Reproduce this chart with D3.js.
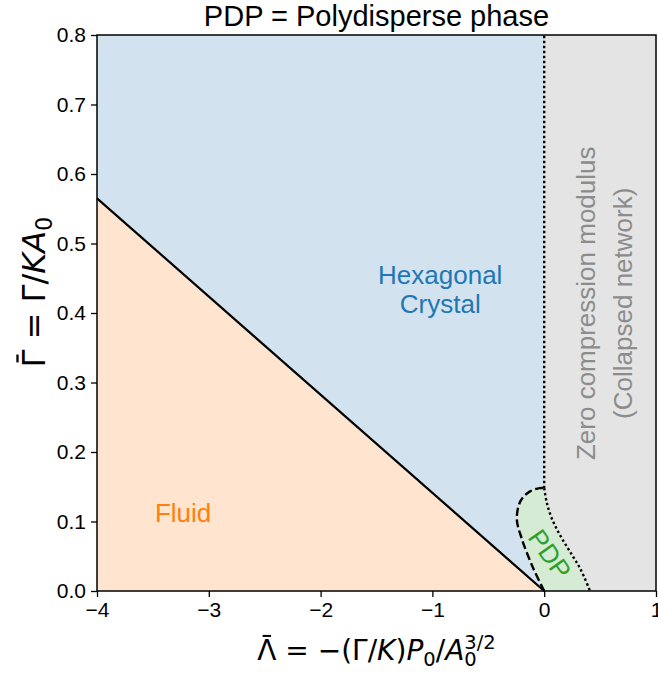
<!DOCTYPE html>
<html>
<head>
<meta charset="utf-8">
<script src="https://cdn.jsdelivr.net/npm/d3@7"></script>
<style>
 body { margin: 0; background: #fff; }
 text { font-family: "Liberation Sans", Arial, sans-serif; }
 .math { font-family: "DejaVu Sans", sans-serif; }
</style>
</head>
<body>
<div id="chart"></div>
<script>
// phase boundaries
const fluidBoundary = [[-4, 0.565], [0, 0]];
const pdpLeftBoundary = [[0, 0], [-0.096, 0.032], [-0.2, 0.075], [-0.245, 0.104], [-0.21, 0.13], [-0.13, 0.143], [-0.04, 0.148], [0, 0.148]];
const pdpRightBoundary = [[0, 0.148], [0.022, 0.128], [0.069, 0.104], [0.143, 0.08], [0.233, 0.056], [0.323, 0.032], [0.41, 0]];
const collapseBoundary = [[0, 0.148], [0, 0.8]];
const xTicks = [-4, -3, -2, -1, 0, 1];
const yTicks = [0, 0.1, 0.2, 0.3, 0.4, 0.5, 0.6, 0.7, 0.8];

(function () {
 const width = 658;
 const height = 677;
 const margin = { top: 35, right: 2, bottom: 86, left: 97 };
 const w = width - margin.left - margin.right;
 const h = height - margin.top - margin.bottom;

 const svg = d3
  .select("#chart")
  .append("svg")
  .attr("width", width)
  .attr("height", height);

 const g = svg.append("g").attr("transform", `translate(${margin.left},${margin.top})`);

 const x = d3.scaleLinear().domain([-4, 1]).range([0, w]);
 const y = d3.scaleLinear().domain([0, 0.8]).range([h, 0]);

 const line = d3.line().x((d) => x(d[0])).y((d) => y(d[1]));
 const smooth = d3.line().x((d) => x(d[0])).y((d) => y(d[1])).curve(d3.curveCatmullRom);

 // filled regions
 const xMin = x.domain()[0], xMax = x.domain()[1];
 const yMax = y.domain()[1];
 g.append("path")
  .attr("d", line([[xMin, 0], ...fluidBoundary]) + "Z")
  .attr("fill", "#ffe5cf");
 g.append("path")
  .attr("d", line([...fluidBoundary, [0, yMax], [xMin, yMax]]) + "Z")
  .attr("fill", "#d2e3ef");
 g.append("path")
  .attr("d", line([[0, 0], [xMax, 0], [xMax, yMax], [0, yMax]]) + "Z")
  .attr("fill", "#e4e4e4");
 g.append("path")
  .attr("d", smooth(pdpLeftBoundary) + smooth(pdpRightBoundary).replace("M", "L") + "Z")
  .attr("fill", "#d5ebd3");

 // boundaries
 g.append("path").attr("d", line(fluidBoundary))
  .attr("fill", "none").attr("stroke", "#000").attr("stroke-width", 2.2);
 g.append("path").attr("d", smooth(pdpLeftBoundary))
  .attr("fill", "none").attr("stroke", "#000").attr("stroke-width", 2.4)
  .attr("stroke-dasharray", "8,3.5");
 g.append("path").attr("d", smooth(pdpRightBoundary))
  .attr("fill", "none").attr("stroke", "#000").attr("stroke-width", 2.4)
  .attr("stroke-dasharray", "2.4,2.6");
 g.append("path").attr("d", line(collapseBoundary))
  .attr("fill", "none").attr("stroke", "#000").attr("stroke-width", 2.4)
  .attr("stroke-dasharray", "2.4,2.6");

 // region labels
 const fs = 26;
 g.append("text").attr("x", x(-0.93)).attr("y", y(0.442))
  .attr("text-anchor", "middle").attr("font-size", fs).attr("fill", "#1f77b4")
  .text("Hexagonal");
 g.append("text").attr("x", x(-0.93)).attr("y", y(0.4))
  .attr("text-anchor", "middle").attr("font-size", fs).attr("fill", "#1f77b4")
  .text("Crystal");
 g.append("text").attr("x", x(-3.23)).attr("y", y(0.112))
  .attr("text-anchor", "middle").attr("dy", "0.35em").attr("font-size", fs).attr("fill", "#ff7f0e")
  .text("Fluid");
 g.append("text")
  .attr("transform", `translate(${x(0.05)},${y(0.053)}) rotate(55)`)
  .attr("text-anchor", "middle").attr("dy", "0.35em").attr("font-size", fs).attr("fill", "#2ca02c")
  .text("PDP");
 g.append("text")
  .attr("transform", `translate(${x(0.37)},${y(0.414)}) rotate(-90)`)
  .attr("text-anchor", "middle").attr("dy", "0.35em").attr("font-size", fs).attr("fill", "#8c8c8c")
  .text("Zero compression modulus");
 g.append("text")
  .attr("transform", `translate(${x(0.7)},${y(0.414)}) rotate(-90)`)
  .attr("text-anchor", "middle").attr("dy", "0.35em").attr("font-size", fs).attr("fill", "#8c8c8c")
  .text("(Collapsed network)");

 // axes
 const fmtX = (d) => (d < 0 ? "\u2212" + Math.abs(d) : d);
 const xAxis = g.append("g").attr("transform", `translate(0,${h})`)
  .call(d3.axisBottom(x).tickValues(xTicks).tickFormat(fmtX).tickSize(6).tickPadding(5));
 const yAxis = g.append("g")
  .call(d3.axisLeft(y).tickValues(yTicks).tickFormat(d3.format(".1f")).tickSize(6).tickPadding(5));
 [xAxis, yAxis].forEach((a) => {
  a.selectAll("text").attr("font-size", 21).attr("fill", "#000")
   .style("font-family", "Liberation Sans, Arial, sans-serif");
  a.selectAll("line").attr("stroke", "#000").attr("stroke-width", 1.3);
  a.select(".domain").remove();
 });

 g.append("rect").attr("width", w).attr("height", h)
  .attr("fill", "none").attr("stroke", "#000").attr("stroke-width", 1.5);

 // title
 svg.append("text").attr("x", margin.left + w / 2).attr("y", 26)
  .attr("text-anchor", "middle").attr("font-size", 29)
  .text("PDP = Polydisperse phase");

 // math labels
 function macron(grp, txt, i, size) {
  const e = txt.node().getExtentOfChar(i);
  grp.append("line")
   .attr("x1", e.x + e.width * 0.28).attr("x2", e.x + e.width * 0.72)
   .attr("y1", -0.86 * size).attr("y2", -0.86 * size)
   .attr("stroke", "#000").attr("stroke-width", size * 0.072);
 }

 const lfs = 28, sfs = 19.5;
 const xg = svg.append("g").attr("transform", `translate(${margin.left + w / 2},660)`);
 const xl = xg.append("text").attr("class", "math")
  .attr("text-anchor", "middle").attr("font-size", lfs);
 xl.append("tspan").text("\u039B = \u2212(\u0393/");
 xl.append("tspan").attr("font-style", "italic").text("K");
 xl.append("tspan").text(")");
 xl.append("tspan").attr("font-style", "italic").text("P");
 xl.append("tspan").attr("font-size", sfs).attr("dy", 6).text("0");
 xl.append("tspan").attr("dy", -6).text("/");
 xl.append("tspan").attr("font-style", "italic").text("A");
 xl.append("tspan").attr("font-size", sfs).attr("dy", 6).text("0");
 xl.append("tspan").attr("font-size", sfs).attr("dx", -0.636 * sfs).attr("dy", -17).text("3/2");
 macron(xg, xl, 0, lfs);

 const yfs = 32, ysfs = 22.5;
 const yg = svg.append("g").attr("transform", `translate(45,292) rotate(-90)`);
 const yl = yg.append("text").attr("class", "math")
  .attr("text-anchor", "middle").attr("font-size", yfs);
 yl.append("tspan").text("\u0393 = \u0393/");
 yl.append("tspan").attr("font-style", "italic").text("KA");
 yl.append("tspan").attr("font-size", ysfs).attr("dy", 7).text("0");
 macron(yg, yl, 0, yfs);
})();
</script>
</body>
</html>
